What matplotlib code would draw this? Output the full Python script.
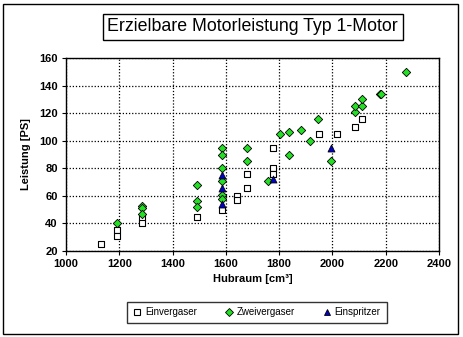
import matplotlib
matplotlib.use("Agg")
import matplotlib.pyplot as plt
from matplotlib.patches import Rectangle
from matplotlib.lines import Line2D

plt.rcParams["font.family"] = ["Liberation Sans", "DejaVu Sans"]

TITLE = "Erzielbare Motorleistung Typ 1-Motor"
X_LABEL = "Hubraum [cm³]"
Y_LABEL = "Leistung [PS]"
SERIES_NAMES = ["Einvergaser", "Zweivergaser", "Einspritzer"]

# Einvergaser
ein_x = [1131, 1192, 1192, 1285, 1285, 1493, 1584, 1641, 1641, 1679, 1679,
         1778, 1778, 1778, 1950, 2018, 2085, 2110]
ein_y = [25, 35, 31, 44, 40, 45, 50, 60, 57, 76, 66,
         95, 80, 76, 105, 105, 110, 116]

# Zweivergaser
zwei_x = [1192, 1285, 1285, 1285, 1493, 1493, 1493, 1584, 1584, 1584, 1584,
          1584, 1584, 1679, 1679, 1760, 1803, 1838, 1838, 1883, 1917, 1947,
          1996, 2085, 2085, 2110, 2110, 2178, 2183, 2276]
zwei_y = [40, 53, 51, 47, 68, 56, 52, 95, 90, 80, 71,
          61, 58, 95, 85, 71, 105, 106, 90, 108, 100, 116,
          85, 121, 125, 125, 130, 134, 134, 150]

# Einspritzer
einspr_x = [1584, 1584, 1584, 1778, 1996]
einspr_y = [75, 66, 54, 72, 95]

x_ticks = [1000, 1200, 1400, 1600, 1800, 2000, 2200, 2400]
y_ticks = [20, 40, 60, 80, 100, 120, 140, 160]

fig = plt.figure(figsize=(4.63, 3.37), dpi=100)
ax = fig.add_axes([0.1425, 0.255, 0.8055, 0.573])

ms = 5.0
ax.scatter(ein_x, ein_y, marker="s", s=ms ** 2, facecolor="white",
           edgecolor="black", linewidths=0.8, zorder=3)
ax.scatter(zwei_x, zwei_y, marker="D", s=(ms * 0.85) ** 2, facecolor="#22e022",
           edgecolor="black", linewidths=0.6, zorder=4)
ax.scatter(einspr_x, einspr_y, marker="^", s=ms ** 2, facecolor="#0000cc",
           edgecolor="black", linewidths=0.6, zorder=5)

ax.set_xlim(1000, 2400)
ax.set_ylim(20, 160)
ax.set_xticks(x_ticks)
ax.set_yticks(y_ticks)
ax.grid(True, color="black", linestyle=(0, (1, 1.5)), linewidth=0.9)
ax.tick_params(direction="out", length=3, width=0.8, labelsize=8, pad=3)
for lab in ax.get_xticklabels() + ax.get_yticklabels():
    lab.set_fontweight("bold")
for sp in ax.spines.values():
    sp.set_linewidth(1.0)
    sp.set_color("black")

ax.set_xlabel(X_LABEL, fontsize=8, fontweight="bold", labelpad=3)
ax.set_ylabel(Y_LABEL, fontsize=8, fontweight="bold", labelpad=6)

# title in a box
fig.text(0.546, 0.920, TITLE, ha="center", va="center", fontsize=12.8,
         bbox=dict(boxstyle="square,pad=0.25", facecolor="white",
                   edgecolor="black", linewidth=1.0))

# legend
handles = [
    Line2D([], [], linestyle="none", marker="s", markersize=5,
           markerfacecolor="white", markeredgecolor="black", markeredgewidth=0.8),
    Line2D([], [], linestyle="none", marker="D", markersize=4,
           markerfacecolor="#22e022", markeredgecolor="black", markeredgewidth=0.6),
    Line2D([], [], linestyle="none", marker="^", markersize=5,
           markerfacecolor="#0000cc", markeredgecolor="black", markeredgewidth=0.6),
]
leg = fig.legend(handles, SERIES_NAMES, loc="center", bbox_to_anchor=(0.555, 0.073),
                 ncol=3, fontsize=7, frameon=True, fancybox=False,
                 handlelength=0.8, handletextpad=0.4, columnspacing=2.9,
                 borderpad=0.6)
leg.get_frame().set_edgecolor("black")
leg.get_frame().set_linewidth(1.0)

# outer chart border
fig.patches.append(Rectangle((0.007, 0.009), 0.983, 0.979, transform=fig.transFigure,
                             fill=False, edgecolor="black", linewidth=1.0))

fig.savefig("out.png", dpi=100)
